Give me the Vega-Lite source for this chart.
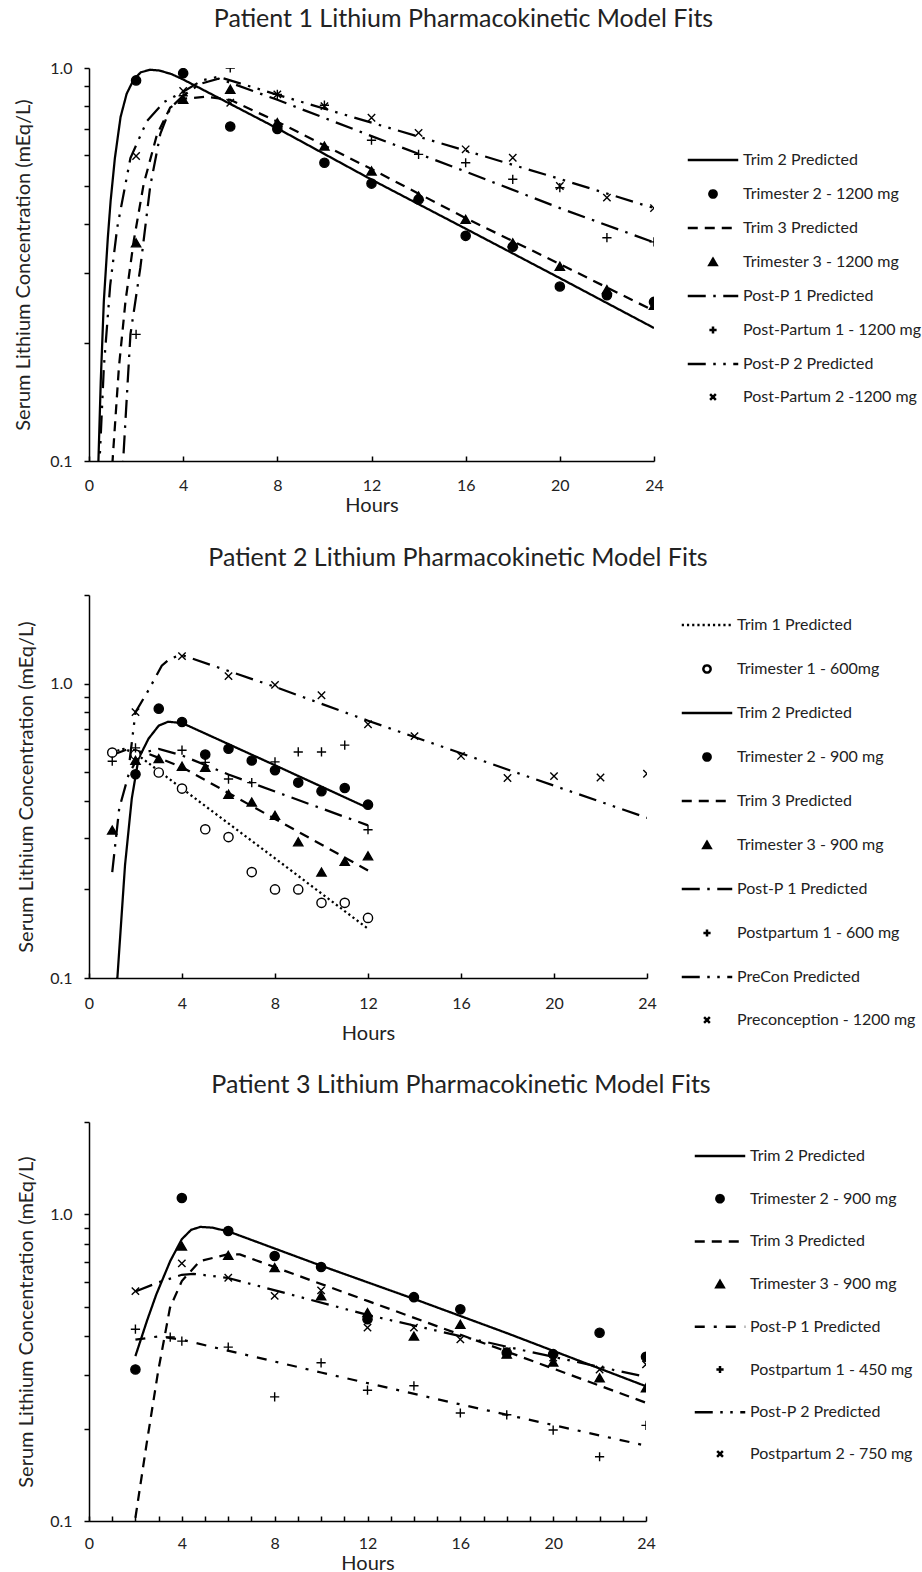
{
  "$schema": "https://vega.github.io/schema/vega-lite/v6.json",
  "padding": {"left": 13, "top": 6, "right": 0, "bottom": 0},
  "columns": 1,
  "spacing": 29,
  "resolve": {
    "scale": {"shape": "independent", "strokeDash": "independent", "fill": "independent", "stroke": "independent"},
    "legend": {"shape": "independent", "strokeDash": "independent", "fill": "independent", "stroke": "independent"}
  },
  "config": {
    "font": "Lato",
    "view": {"stroke": null},
    "axis": {"grid": false, "domainColor": "#000", "domainWidth": 1.5, "tickColor": "#000", "tickWidth": 1.5, "labelFont": "Lato", "labelFontSize": 16, "labelColor": "#222", "titleFont": "Lato", "titleFontSize": 20, "titleFontWeight": "normal", "titleColor": "#222", "labelOverlap": false, "labelFlush": false},
    "title": {"font": "Lato", "fontSize": 25, "fontWeight": "normal", "color": "#222", "anchor": "middle", "frame": "group", "baseline": "alphabetic"},
    "legend": {"title": null, "orient": "none", "direction": "vertical", "symbolSize": 52, "symbolStrokeWidth": 2.5, "symbolStrokeColor": "black", "labelFont": "Lato", "labelFontSize": 16, "labelColor": "#222", "labelOffset": 22, "symbolOffset": 0, "labelLimit": 400, "padding": 0}
  },
  "datasets": {
    "p1pred": [
      {"s":"Trim 2 Predicted","h":0.3,"c":0.07},{"s":"Trim 2 Predicted","h":0.4,"c":0.1},{"s":"Trim 2 Predicted","h":0.5,"c":0.16},{"s":"Trim 2 Predicted","h":0.63,"c":0.255},{"s":"Trim 2 Predicted","h":0.8,"c":0.37},{"s":"Trim 2 Predicted","h":0.92,"c":0.46},{"s":"Trim 2 Predicted","h":1.1,"c":0.59},{"s":"Trim 2 Predicted","h":1.34,"c":0.75},{"s":"Trim 2 Predicted","h":1.6,"c":0.86},{"s":"Trim 2 Predicted","h":1.9,"c":0.935},{"s":"Trim 2 Predicted","h":2.2,"c":0.975},{"s":"Trim 2 Predicted","h":2.6,"c":0.99},{"s":"Trim 2 Predicted","h":3,"c":0.985},{"s":"Trim 2 Predicted","h":3.5,"c":0.965},{"s":"Trim 2 Predicted","h":4,"c":0.935},{"s":"Trim 2 Predicted","h":8,"c":0.702},{"s":"Trim 2 Predicted","h":12,"c":0.52},{"s":"Trim 2 Predicted","h":16,"c":0.39},{"s":"Trim 2 Predicted","h":20,"c":0.292},{"s":"Trim 2 Predicted","h":24,"c":0.218},
      {"s":"Trim 3 Predicted","h":0.9,"c":0.08},{"s":"Trim 3 Predicted","h":1.0,"c":0.1},{"s":"Trim 3 Predicted","h":1.27,"c":0.173},{"s":"Trim 3 Predicted","h":1.55,"c":0.255},{"s":"Trim 3 Predicted","h":1.9,"c":0.363},{"s":"Trim 3 Predicted","h":2.32,"c":0.506},{"s":"Trim 3 Predicted","h":2.89,"c":0.678},{"s":"Trim 3 Predicted","h":3.45,"c":0.793},{"s":"Trim 3 Predicted","h":4,"c":0.835},{"s":"Trim 3 Predicted","h":5,"c":0.845},{"s":"Trim 3 Predicted","h":6,"c":0.83},{"s":"Trim 3 Predicted","h":8,"c":0.73},{"s":"Trim 3 Predicted","h":12,"c":0.553},{"s":"Trim 3 Predicted","h":16,"c":0.415},{"s":"Trim 3 Predicted","h":20,"c":0.317},{"s":"Trim 3 Predicted","h":24,"c":0.241},
      {"s":"Post-P 1 Predicted","h":1.35,"c":0.085},{"s":"Post-P 1 Predicted","h":1.45,"c":0.1},{"s":"Post-P 1 Predicted","h":1.76,"c":0.21},{"s":"Post-P 1 Predicted","h":2.18,"c":0.31},{"s":"Post-P 1 Predicted","h":2.6,"c":0.5},{"s":"Post-P 1 Predicted","h":3.03,"c":0.68},{"s":"Post-P 1 Predicted","h":3.45,"c":0.79},{"s":"Post-P 1 Predicted","h":4,"c":0.85},{"s":"Post-P 1 Predicted","h":4.7,"c":0.91},{"s":"Post-P 1 Predicted","h":5.5,"c":0.94},{"s":"Post-P 1 Predicted","h":8,"c":0.83},{"s":"Post-P 1 Predicted","h":12,"c":0.671},{"s":"Post-P 1 Predicted","h":16,"c":0.545},{"s":"Post-P 1 Predicted","h":20,"c":0.44},{"s":"Post-P 1 Predicted","h":24,"c":0.36},
      {"s":"Post-P 2 Predicted","h":0.4,"c":0.09},{"s":"Post-P 2 Predicted","h":0.45,"c":0.1},{"s":"Post-P 2 Predicted","h":0.63,"c":0.173},{"s":"Post-P 2 Predicted","h":0.9,"c":0.28},{"s":"Post-P 2 Predicted","h":1.2,"c":0.393},{"s":"Post-P 2 Predicted","h":1.76,"c":0.59},{"s":"Post-P 2 Predicted","h":2.46,"c":0.733},{"s":"Post-P 2 Predicted","h":3.2,"c":0.82},{"s":"Post-P 2 Predicted","h":4,"c":0.87},{"s":"Post-P 2 Predicted","h":4.8,"c":0.93},{"s":"Post-P 2 Predicted","h":5.5,"c":0.95},{"s":"Post-P 2 Predicted","h":8,"c":0.855},{"s":"Post-P 2 Predicted","h":12,"c":0.726},{"s":"Post-P 2 Predicted","h":16,"c":0.616},{"s":"Post-P 2 Predicted","h":20,"c":0.522},{"s":"Post-P 2 Predicted","h":24,"c":0.44}
    ],
    "p1obs": [
      {"s":"Trimester 2 - 1200 mg","h":2,"c":0.93},{"s":"Trimester 2 - 1200 mg","h":4,"c":0.97},{"s":"Trimester 2 - 1200 mg","h":6,"c":0.71},{"s":"Trimester 2 - 1200 mg","h":8,"c":0.7},{"s":"Trimester 2 - 1200 mg","h":10,"c":0.574},{"s":"Trimester 2 - 1200 mg","h":12,"c":0.508},{"s":"Trimester 2 - 1200 mg","h":14,"c":0.463},{"s":"Trimester 2 - 1200 mg","h":16,"c":0.374},{"s":"Trimester 2 - 1200 mg","h":18,"c":0.351},{"s":"Trimester 2 - 1200 mg","h":20,"c":0.278},{"s":"Trimester 2 - 1200 mg","h":22,"c":0.264},{"s":"Trimester 2 - 1200 mg","h":24,"c":0.254},
      {"s":"Trimester 3 - 1200 mg","h":2,"c":0.359},{"s":"Trimester 3 - 1200 mg","h":4,"c":0.832},{"s":"Trimester 3 - 1200 mg","h":6,"c":0.883},{"s":"Trimester 3 - 1200 mg","h":8,"c":0.726},{"s":"Trimester 3 - 1200 mg","h":10,"c":0.633},{"s":"Trimester 3 - 1200 mg","h":12,"c":0.547},{"s":"Trimester 3 - 1200 mg","h":14,"c":0.472},{"s":"Trimester 3 - 1200 mg","h":16,"c":0.412},{"s":"Trimester 3 - 1200 mg","h":18,"c":0.359},{"s":"Trimester 3 - 1200 mg","h":20,"c":0.313},{"s":"Trimester 3 - 1200 mg","h":22,"c":0.273},{"s":"Trimester 3 - 1200 mg","h":24,"c":0.249},
      {"s":"Post-Partum 1 - 1200 mg","h":2,"c":0.21},{"s":"Post-Partum 1 - 1200 mg","h":4,"c":0.85},{"s":"Post-Partum 1 - 1200 mg","h":6,"c":1.0},{"s":"Post-Partum 1 - 1200 mg","h":8,"c":0.857},{"s":"Post-Partum 1 - 1200 mg","h":10,"c":0.804},{"s":"Post-Partum 1 - 1200 mg","h":12,"c":0.655},{"s":"Post-Partum 1 - 1200 mg","h":14,"c":0.603},{"s":"Post-Partum 1 - 1200 mg","h":16,"c":0.574},{"s":"Post-Partum 1 - 1200 mg","h":18,"c":0.521},{"s":"Post-Partum 1 - 1200 mg","h":20,"c":0.496},{"s":"Post-Partum 1 - 1200 mg","h":22,"c":0.37},{"s":"Post-Partum 1 - 1200 mg","h":24,"c":0.361},
      {"s":"Post-Partum 2 -1200 mg","h":2,"c":0.597},{"s":"Post-Partum 2 -1200 mg","h":4,"c":0.874},{"s":"Post-Partum 2 -1200 mg","h":6,"c":0.816},{"s":"Post-Partum 2 -1200 mg","h":8,"c":0.857},{"s":"Post-Partum 2 -1200 mg","h":10,"c":0.8},{"s":"Post-Partum 2 -1200 mg","h":12,"c":0.747},{"s":"Post-Partum 2 -1200 mg","h":14,"c":0.684},{"s":"Post-Partum 2 -1200 mg","h":16,"c":0.621},{"s":"Post-Partum 2 -1200 mg","h":18,"c":0.591},{"s":"Post-Partum 2 -1200 mg","h":20,"c":0.501},{"s":"Post-Partum 2 -1200 mg","h":22,"c":0.468},{"s":"Post-Partum 2 -1200 mg","h":24,"c":0.44}
    ],
    "p2pred": [
      {"s":"Trim 1 Predicted","h":1,"c":0.585},{"s":"Trim 1 Predicted","h":1.5,"c":0.6},{"s":"Trim 1 Predicted","h":2,"c":0.58},{"s":"Trim 1 Predicted","h":4,"c":0.44},{"s":"Trim 1 Predicted","h":8,"c":0.255},{"s":"Trim 1 Predicted","h":12,"c":0.147},
      {"s":"Trim 2 Predicted","h":1.1,"c":0.085},{"s":"Trim 2 Predicted","h":1.22,"c":0.1},{"s":"Trim 2 Predicted","h":1.55,"c":0.242},{"s":"Trim 2 Predicted","h":1.84,"c":0.407},{"s":"Trim 2 Predicted","h":2.13,"c":0.556},{"s":"Trim 2 Predicted","h":2.56,"c":0.65},{"s":"Trim 2 Predicted","h":3,"c":0.72},{"s":"Trim 2 Predicted","h":3.4,"c":0.742},{"s":"Trim 2 Predicted","h":4,"c":0.735},{"s":"Trim 2 Predicted","h":8,"c":0.528},{"s":"Trim 2 Predicted","h":12,"c":0.378},
      {"s":"Trim 3 Predicted","h":1.2,"c":0.58},{"s":"Trim 3 Predicted","h":1.7,"c":0.6},{"s":"Trim 3 Predicted","h":2.5,"c":0.58},{"s":"Trim 3 Predicted","h":4,"c":0.52},{"s":"Trim 3 Predicted","h":8,"c":0.347},{"s":"Trim 3 Predicted","h":12,"c":0.232},
      {"s":"Post-P 1 Predicted","h":1,"c":0.229},{"s":"Post-P 1 Predicted","h":1.3,"c":0.377},{"s":"Post-P 1 Predicted","h":1.7,"c":0.49},{"s":"Post-P 1 Predicted","h":2.2,"c":0.58},{"s":"Post-P 1 Predicted","h":3,"c":0.6},{"s":"Post-P 1 Predicted","h":4,"c":0.57},{"s":"Post-P 1 Predicted","h":6,"c":0.491},{"s":"Post-P 1 Predicted","h":8,"c":0.43},{"s":"Post-P 1 Predicted","h":12,"c":0.33},
      {"s":"PreCon Predicted","h":1.75,"c":0.55},{"s":"PreCon Predicted","h":2,"c":0.8},{"s":"PreCon Predicted","h":2.56,"c":0.95},{"s":"PreCon Predicted","h":3.13,"c":1.15},{"s":"PreCon Predicted","h":3.5,"c":1.22},{"s":"PreCon Predicted","h":4,"c":1.25},{"s":"PreCon Predicted","h":8,"c":0.975},{"s":"PreCon Predicted","h":12,"c":0.748},{"s":"PreCon Predicted","h":16,"c":0.58},{"s":"PreCon Predicted","h":20,"c":0.45},{"s":"PreCon Predicted","h":24,"c":0.35}
    ],
    "p2obs": [
      {"s":"Trimester 1 - 600mg","h":1,"c":0.583},{"s":"Trimester 1 - 600mg","h":2,"c":0.574},{"s":"Trimester 1 - 600mg","h":3,"c":0.499},{"s":"Trimester 1 - 600mg","h":4,"c":0.44},{"s":"Trimester 1 - 600mg","h":5,"c":0.32},{"s":"Trimester 1 - 600mg","h":6,"c":0.301},{"s":"Trimester 1 - 600mg","h":7,"c":0.229},{"s":"Trimester 1 - 600mg","h":8,"c":0.2},{"s":"Trimester 1 - 600mg","h":9,"c":0.2},{"s":"Trimester 1 - 600mg","h":10,"c":0.18},{"s":"Trimester 1 - 600mg","h":11,"c":0.18},{"s":"Trimester 1 - 600mg","h":12,"c":0.16},
      {"s":"Trimester 2 - 900 mg","h":2,"c":0.492},{"s":"Trimester 2 - 900 mg","h":3,"c":0.822},{"s":"Trimester 2 - 900 mg","h":4,"c":0.741},{"s":"Trimester 2 - 900 mg","h":5,"c":0.574},{"s":"Trimester 2 - 900 mg","h":6,"c":0.601},{"s":"Trimester 2 - 900 mg","h":7,"c":0.548},{"s":"Trimester 2 - 900 mg","h":8,"c":0.508},{"s":"Trimester 2 - 900 mg","h":9,"c":0.461},{"s":"Trimester 2 - 900 mg","h":10,"c":0.431},{"s":"Trimester 2 - 900 mg","h":11,"c":0.442},{"s":"Trimester 2 - 900 mg","h":12,"c":0.388},
      {"s":"Trimester 3 - 900 mg","h":1,"c":0.318},{"s":"Trimester 3 - 900 mg","h":2,"c":0.549},{"s":"Trimester 3 - 900 mg","h":3,"c":0.556},{"s":"Trimester 3 - 900 mg","h":4,"c":0.524},{"s":"Trimester 3 - 900 mg","h":5,"c":0.52},{"s":"Trimester 3 - 900 mg","h":6,"c":0.421},{"s":"Trimester 3 - 900 mg","h":7,"c":0.396},{"s":"Trimester 3 - 900 mg","h":8,"c":0.357},{"s":"Trimester 3 - 900 mg","h":9,"c":0.29},{"s":"Trimester 3 - 900 mg","h":10,"c":0.229},{"s":"Trimester 3 - 900 mg","h":11,"c":0.249},{"s":"Trimester 3 - 900 mg","h":12,"c":0.26},
      {"s":"Postpartum 1 - 600 mg","h":1,"c":0.545},{"s":"Postpartum 1 - 600 mg","h":2,"c":0.605},{"s":"Postpartum 1 - 600 mg","h":4,"c":0.594},{"s":"Postpartum 1 - 600 mg","h":5,"c":0.54},{"s":"Postpartum 1 - 600 mg","h":6,"c":0.474},{"s":"Postpartum 1 - 600 mg","h":7,"c":0.461},{"s":"Postpartum 1 - 600 mg","h":8,"c":0.542},{"s":"Postpartum 1 - 600 mg","h":9,"c":0.586},{"s":"Postpartum 1 - 600 mg","h":10,"c":0.586},{"s":"Postpartum 1 - 600 mg","h":11,"c":0.618},{"s":"Postpartum 1 - 600 mg","h":12,"c":0.319},
      {"s":"Preconception - 1200 mg","h":2,"c":0.8},{"s":"Preconception - 1200 mg","h":4,"c":1.24},{"s":"Preconception - 1200 mg","h":6,"c":1.06},{"s":"Preconception - 1200 mg","h":8,"c":0.99},{"s":"Preconception - 1200 mg","h":10,"c":0.913},{"s":"Preconception - 1200 mg","h":12,"c":0.728},{"s":"Preconception - 1200 mg","h":14,"c":0.663},{"s":"Preconception - 1200 mg","h":16,"c":0.568},{"s":"Preconception - 1200 mg","h":18,"c":0.478},{"s":"Preconception - 1200 mg","h":20,"c":0.485},{"s":"Preconception - 1200 mg","h":22,"c":0.48},{"s":"Preconception - 1200 mg","h":24,"c":0.494}
    ],
    "p3pred": [
      {"s":"Trim 2 Predicted","h":2,"c":0.345},{"s":"Trim 2 Predicted","h":2.5,"c":0.45},{"s":"Trim 2 Predicted","h":2.9,"c":0.548},{"s":"Trim 2 Predicted","h":3.5,"c":0.704},{"s":"Trim 2 Predicted","h":4,"c":0.83},{"s":"Trim 2 Predicted","h":4.4,"c":0.89},{"s":"Trim 2 Predicted","h":4.8,"c":0.91},{"s":"Trim 2 Predicted","h":5.3,"c":0.905},{"s":"Trim 2 Predicted","h":6,"c":0.88},{"s":"Trim 2 Predicted","h":10,"c":0.68},{"s":"Trim 2 Predicted","h":14,"c":0.53},{"s":"Trim 2 Predicted","h":18,"c":0.41},{"s":"Trim 2 Predicted","h":24,"c":0.275},
      {"s":"Trim 3 Predicted","h":2,"c":0.1025},{"s":"Trim 3 Predicted","h":2.48,"c":0.178},{"s":"Trim 3 Predicted","h":2.98,"c":0.308},{"s":"Trim 3 Predicted","h":3.49,"c":0.496},{"s":"Trim 3 Predicted","h":4,"c":0.606},{"s":"Trim 3 Predicted","h":4.78,"c":0.704},{"s":"Trim 3 Predicted","h":6,"c":0.741},{"s":"Trim 3 Predicted","h":6.5,"c":0.74},{"s":"Trim 3 Predicted","h":12,"c":0.522},{"s":"Trim 3 Predicted","h":18,"c":0.357},{"s":"Trim 3 Predicted","h":24,"c":0.243},
      {"s":"Post-P 1 Predicted","h":2,"c":0.39},{"s":"Post-P 1 Predicted","h":3,"c":0.4},{"s":"Post-P 1 Predicted","h":4,"c":0.39},{"s":"Post-P 1 Predicted","h":10,"c":0.305},{"s":"Post-P 1 Predicted","h":16,"c":0.24},{"s":"Post-P 1 Predicted","h":24,"c":0.176},
      {"s":"Post-P 2 Predicted","h":2,"c":0.56},{"s":"Post-P 2 Predicted","h":3,"c":0.6},{"s":"Post-P 2 Predicted","h":4,"c":0.635},{"s":"Post-P 2 Predicted","h":4.5,"c":0.64},{"s":"Post-P 2 Predicted","h":6,"c":0.62},{"s":"Post-P 2 Predicted","h":12,"c":0.47},{"s":"Post-P 2 Predicted","h":18,"c":0.37},{"s":"Post-P 2 Predicted","h":24,"c":0.295}
    ],
    "p3obs": [
      {"s":"Trimester 2 - 900 mg","h":2,"c":0.312},{"s":"Trimester 2 - 900 mg","h":4,"c":1.13},{"s":"Trimester 2 - 900 mg","h":6,"c":0.882},{"s":"Trimester 2 - 900 mg","h":8,"c":0.731},{"s":"Trimester 2 - 900 mg","h":10,"c":0.673},{"s":"Trimester 2 - 900 mg","h":12,"c":0.455},{"s":"Trimester 2 - 900 mg","h":14,"c":0.537},{"s":"Trimester 2 - 900 mg","h":16,"c":0.49},{"s":"Trimester 2 - 900 mg","h":18,"c":0.354},{"s":"Trimester 2 - 900 mg","h":20,"c":0.35},{"s":"Trimester 2 - 900 mg","h":22,"c":0.411},{"s":"Trimester 2 - 900 mg","h":24,"c":0.343},
      {"s":"Trimester 3 - 900 mg","h":4,"c":0.788},{"s":"Trimester 3 - 900 mg","h":6,"c":0.735},{"s":"Trimester 3 - 900 mg","h":8,"c":0.67},{"s":"Trimester 3 - 900 mg","h":10,"c":0.542},{"s":"Trimester 3 - 900 mg","h":12,"c":0.478},{"s":"Trimester 3 - 900 mg","h":14,"c":0.401},{"s":"Trimester 3 - 900 mg","h":16,"c":0.438},{"s":"Trimester 3 - 900 mg","h":18,"c":0.35},{"s":"Trimester 3 - 900 mg","h":20,"c":0.33},{"s":"Trimester 3 - 900 mg","h":22,"c":0.293},{"s":"Trimester 3 - 900 mg","h":24,"c":0.272},
      {"s":"Postpartum 1 - 450 mg","h":2,"c":0.422},{"s":"Postpartum 1 - 450 mg","h":3.5,"c":0.398},{"s":"Postpartum 1 - 450 mg","h":4,"c":0.386},{"s":"Postpartum 1 - 450 mg","h":6,"c":0.369},{"s":"Postpartum 1 - 450 mg","h":8,"c":0.254},{"s":"Postpartum 1 - 450 mg","h":10,"c":0.328},{"s":"Postpartum 1 - 450 mg","h":12,"c":0.267},{"s":"Postpartum 1 - 450 mg","h":14,"c":0.276},{"s":"Postpartum 1 - 450 mg","h":16,"c":0.225},{"s":"Postpartum 1 - 450 mg","h":18,"c":0.222},{"s":"Postpartum 1 - 450 mg","h":20,"c":0.198},{"s":"Postpartum 1 - 450 mg","h":22,"c":0.162},{"s":"Postpartum 1 - 450 mg","h":24,"c":0.205},
      {"s":"Postpartum 2 - 750 mg","h":2,"c":0.562},{"s":"Postpartum 2 - 750 mg","h":4,"c":0.692},{"s":"Postpartum 2 - 750 mg","h":6,"c":0.621},{"s":"Postpartum 2 - 750 mg","h":8,"c":0.542},{"s":"Postpartum 2 - 750 mg","h":10,"c":0.565},{"s":"Postpartum 2 - 750 mg","h":12,"c":0.427},{"s":"Postpartum 2 - 750 mg","h":14,"c":0.427},{"s":"Postpartum 2 - 750 mg","h":16,"c":0.391},{"s":"Postpartum 2 - 750 mg","h":18,"c":0.358},{"s":"Postpartum 2 - 750 mg","h":20,"c":0.341},{"s":"Postpartum 2 - 750 mg","h":22,"c":0.312},{"s":"Postpartum 2 - 750 mg","h":24,"c":0.324}
    ]
  },
  "concat": [
    {
      "width": 565, "height": 393,
      "title": {"text": "Patient 1 Lithium Pharmacokinetic Model Fits", "offset": 28.4, "dx": 92},
      "encoding": {
        "x": {"field": "h", "type": "quantitative", "scale": {"domain": [0, 24], "nice": false}, "axis": {"values": [0,4,8,12,16,20,24], "title": "Hours", "tickSize": -5, "labelPadding": 21, "titlePadding": 2.8}},
        "y": {"field": "c", "type": "quantitative", "scale": {"type": "log", "domain": [0.1, 1], "nice": false}, "axis": {"values": [0.1,0.2,0.3,0.4,0.5,0.6,0.7,0.8,0.9,1], "labelExpr": "datum.value == 1 || datum.value == 0.1 ? format(datum.value, '.1f') : ''", "title": "Serum Lithium Concentration (mEq/L)", "tickSize": 5, "labelPadding": 12, "titlePadding": 16}}
      },
      "layer": [
        {"data": {"name": "p1pred"}, "mark": {"type": "line", "strokeWidth": 2.25, "clip": true, "color": "black"},
         "encoding": {"strokeDash": {"field": "s", "type": "nominal",
           "scale": {"domain": ["Trim 2 Predicted","Trimester 2 - 1200 mg","Trim 3 Predicted","Trimester 3 - 1200 mg","Post-P 1 Predicted","Post-Partum 1 - 1200 mg","Post-P 2 Predicted","Post-Partum 2 -1200 mg"],
                     "range": [[1,0],[1,0],[10,7],[1,0],[18,7.5,2.5,7.5],[1,0],[18,7.5,2.5,7.5,2.5,7.5],[1,0]]},
           "legend": {"legendX": 616, "legendY": 84, "rowPadding": 17}}}},
        {"data": {"name": "p1obs"}, "mark": {"type": "point", "size": 85, "strokeWidth": 1.4, "opacity": 1, "clip": true},
         "encoding": {"shape": {"field": "s", "type": "nominal",
           "scale": {"domain": ["Trim 2 Predicted","Trimester 2 - 1200 mg","Trim 3 Predicted","Trimester 3 - 1200 mg","Post-P 1 Predicted","Post-Partum 1 - 1200 mg","Post-P 2 Predicted","Post-Partum 2 -1200 mg"],
                     "range": ["M-7,0H7","circle","M-7,0H7","triangle-up","M-7,0H7","M-1,0H1M0,-1V1","M-7,0H7","M-0.8,-0.8L0.8,0.8M-0.8,0.8L0.8,-0.8"]},
           "legend": {"legendX": 616, "legendY": 84, "rowPadding": 17}},
           "fill": {"field": "s", "type": "nominal",
           "scale": {"domain": ["Trim 2 Predicted","Trimester 2 - 1200 mg","Trim 3 Predicted","Trimester 3 - 1200 mg","Post-P 1 Predicted","Post-Partum 1 - 1200 mg","Post-P 2 Predicted","Post-Partum 2 -1200 mg"],
                     "range": ["black","black","black","black","black","black","black","black"]},
           "legend": {"legendX": 616, "legendY": 84, "rowPadding": 17}},
           "stroke": {"field": "s", "type": "nominal",
           "scale": {"domain": ["Trim 2 Predicted","Trimester 2 - 1200 mg","Trim 3 Predicted","Trimester 3 - 1200 mg","Post-P 1 Predicted","Post-Partum 1 - 1200 mg","Post-P 2 Predicted","Post-Partum 2 -1200 mg"],
                     "range": ["black","black","black","black","black","black","black","black"]},
           "legend": {"legendX": 616, "legendY": 84, "rowPadding": 17}}}}
      ]
    },
    {
      "width": 558, "height": 383,
      "title": {"text": "Patient 2 Lithium Pharmacokinetic Model Fits", "offset": 16.3, "dx": 90},
      "encoding": {
        "x": {"field": "h", "type": "quantitative", "scale": {"domain": [0, 24], "nice": false}, "axis": {"values": [0,4,8,12,16,20,24], "title": "Hours", "tickSize": -5, "labelPadding": 22, "titlePadding": 12.8}},
        "y": {"field": "c", "type": "quantitative", "scale": {"type": "log", "domain": [0.1, 2], "nice": false}, "axis": {"values": [0.1,0.2,0.3,0.4,0.5,0.6,0.7,0.8,0.9,1,2], "labelExpr": "datum.value == 1 || datum.value == 0.1 ? format(datum.value, '.1f') : ''", "title": "Serum Lithium Concentration (mEq/L)", "tickSize": 5, "labelPadding": 12, "titlePadding": 12.7}}
      },
      "layer": [
        {"data": {"name": "p2pred"}, "mark": {"type": "line", "strokeWidth": 2.25, "clip": true, "color": "black"},
         "encoding": {"strokeDash": {"field": "s", "type": "nominal",
           "scale": {"domain": ["Trim 1 Predicted","Trimester 1 - 600mg","Trim 2 Predicted","Trimester 2 - 900 mg","Trim 3 Predicted","Trimester 3 - 900 mg","Post-P 1 Predicted","Postpartum 1 - 600 mg","PreCon Predicted","Preconception - 1200 mg"],
                     "range": [[2.2,3],[1,0],[1,0],[1,0],[10,7],[1,0],[18,7.5,2.5,7.5],[1,0],[18,7.5,2.5,7.5,2.5,7.5],[1,0]]},
           "legend": {"legendX": 610, "legendY": 22, "rowPadding": 27}}}},
        {"data": {"name": "p2obs"}, "mark": {"type": "point", "size": 85, "strokeWidth": 1.4, "opacity": 1, "clip": true},
         "encoding": {"shape": {"field": "s", "type": "nominal",
           "scale": {"domain": ["Trim 1 Predicted","Trimester 1 - 600mg","Trim 2 Predicted","Trimester 2 - 900 mg","Trim 3 Predicted","Trimester 3 - 900 mg","Post-P 1 Predicted","Postpartum 1 - 600 mg","PreCon Predicted","Preconception - 1200 mg"],
                     "range": ["M-7,0H7","circle","M-7,0H7","circle","M-7,0H7","triangle-up","M-7,0H7","M-1,0H1M0,-1V1","M-7,0H7","M-0.8,-0.8L0.8,0.8M-0.8,0.8L0.8,-0.8"]},
           "legend": {"legendX": 610, "legendY": 22, "rowPadding": 27}},
           "fill": {"field": "s", "type": "nominal",
           "scale": {"domain": ["Trim 1 Predicted","Trimester 1 - 600mg","Trim 2 Predicted","Trimester 2 - 900 mg","Trim 3 Predicted","Trimester 3 - 900 mg","Post-P 1 Predicted","Postpartum 1 - 600 mg","PreCon Predicted","Preconception - 1200 mg"],
                     "range": ["black","white","black","black","black","black","black","black","black","black"]},
           "legend": {"legendX": 610, "legendY": 22, "rowPadding": 27}},
           "stroke": {"field": "s", "type": "nominal",
           "scale": {"domain": ["Trim 1 Predicted","Trimester 1 - 600mg","Trim 2 Predicted","Trimester 2 - 900 mg","Trim 3 Predicted","Trimester 3 - 900 mg","Post-P 1 Predicted","Postpartum 1 - 600 mg","PreCon Predicted","Preconception - 1200 mg"],
                     "range": ["black","black","black","black","black","black","black","black","black","black"]},
           "legend": {"legendX": 610, "legendY": 22, "rowPadding": 27}}}}
      ]
    },
    {
      "width": 557, "height": 399,
      "title": {"text": "Patient 3 Lithium Pharmacokinetic Model Fits", "offset": 15.7, "dx": 93.5},
      "encoding": {
        "x": {"field": "h", "type": "quantitative", "scale": {"domain": [0, 24], "nice": false}, "axis": {"values": [0,1,2,3,4,5,6,7,8,9,10,11,12,13,14,15,16,17,18,19,20,21,22,23,24], "labelExpr": "datum.value % 4 == 0 ? datum.label : ''", "title": "Hours", "tickSize": -5, "labelPadding": 19.5, "titlePadding": 2}},
        "y": {"field": "c", "type": "quantitative", "scale": {"type": "log", "domain": [0.1, 2], "nice": false}, "axis": {"values": [0.1,0.2,0.3,0.4,0.5,0.6,0.7,0.8,0.9,1,2], "labelExpr": "datum.value == 1 || datum.value == 0.1 ? format(datum.value, '.1f') : ''", "title": "Serum Lithium Concentration (mEq/L)", "tickSize": 5, "labelPadding": 12, "titlePadding": 13.3}}
      },
      "layer": [
        {"data": {"name": "p3pred"}, "mark": {"type": "line", "strokeWidth": 2.25, "clip": true, "color": "black"},
         "encoding": {"strokeDash": {"field": "s", "type": "nominal",
           "scale": {"domain": ["Trim 2 Predicted","Trimester 2 - 900 mg","Trim 3 Predicted","Trimester 3 - 900 mg","Post-P 1 Predicted","Postpartum 1 - 450 mg","Post-P 2 Predicted","Postpartum 2 - 750 mg"],
                     "range": [[1,0],[1,0],[10,7],[1,0],[10,9,3,9],[1,0],[18,7.5,2.5,7.5,2.5,7.5],[1,0]]},
           "legend": {"legendX": 623, "legendY": 26, "rowPadding": 25.7}}}},
        {"data": {"name": "p3obs"}, "mark": {"type": "point", "size": 85, "strokeWidth": 1.4, "opacity": 1, "clip": true},
         "encoding": {"shape": {"field": "s", "type": "nominal",
           "scale": {"domain": ["Trim 2 Predicted","Trimester 2 - 900 mg","Trim 3 Predicted","Trimester 3 - 900 mg","Post-P 1 Predicted","Postpartum 1 - 450 mg","Post-P 2 Predicted","Postpartum 2 - 750 mg"],
                     "range": ["M-7,0H7","circle","M-7,0H7","triangle-up","M-7,0H7","M-1,0H1M0,-1V1","M-7,0H7","M-0.8,-0.8L0.8,0.8M-0.8,0.8L0.8,-0.8"]},
           "legend": {"legendX": 623, "legendY": 26, "rowPadding": 25.7}},
           "fill": {"field": "s", "type": "nominal",
           "scale": {"domain": ["Trim 2 Predicted","Trimester 2 - 900 mg","Trim 3 Predicted","Trimester 3 - 900 mg","Post-P 1 Predicted","Postpartum 1 - 450 mg","Post-P 2 Predicted","Postpartum 2 - 750 mg"],
                     "range": ["black","black","black","black","black","black","black","black"]},
           "legend": {"legendX": 623, "legendY": 26, "rowPadding": 25.7}},
           "stroke": {"field": "s", "type": "nominal",
           "scale": {"domain": ["Trim 2 Predicted","Trimester 2 - 900 mg","Trim 3 Predicted","Trimester 3 - 900 mg","Post-P 1 Predicted","Postpartum 1 - 450 mg","Post-P 2 Predicted","Postpartum 2 - 750 mg"],
                     "range": ["black","black","black","black","black","black","black","black"]},
           "legend": {"legendX": 623, "legendY": 26, "rowPadding": 25.7}}}}
      ]
    }
  ]
}
